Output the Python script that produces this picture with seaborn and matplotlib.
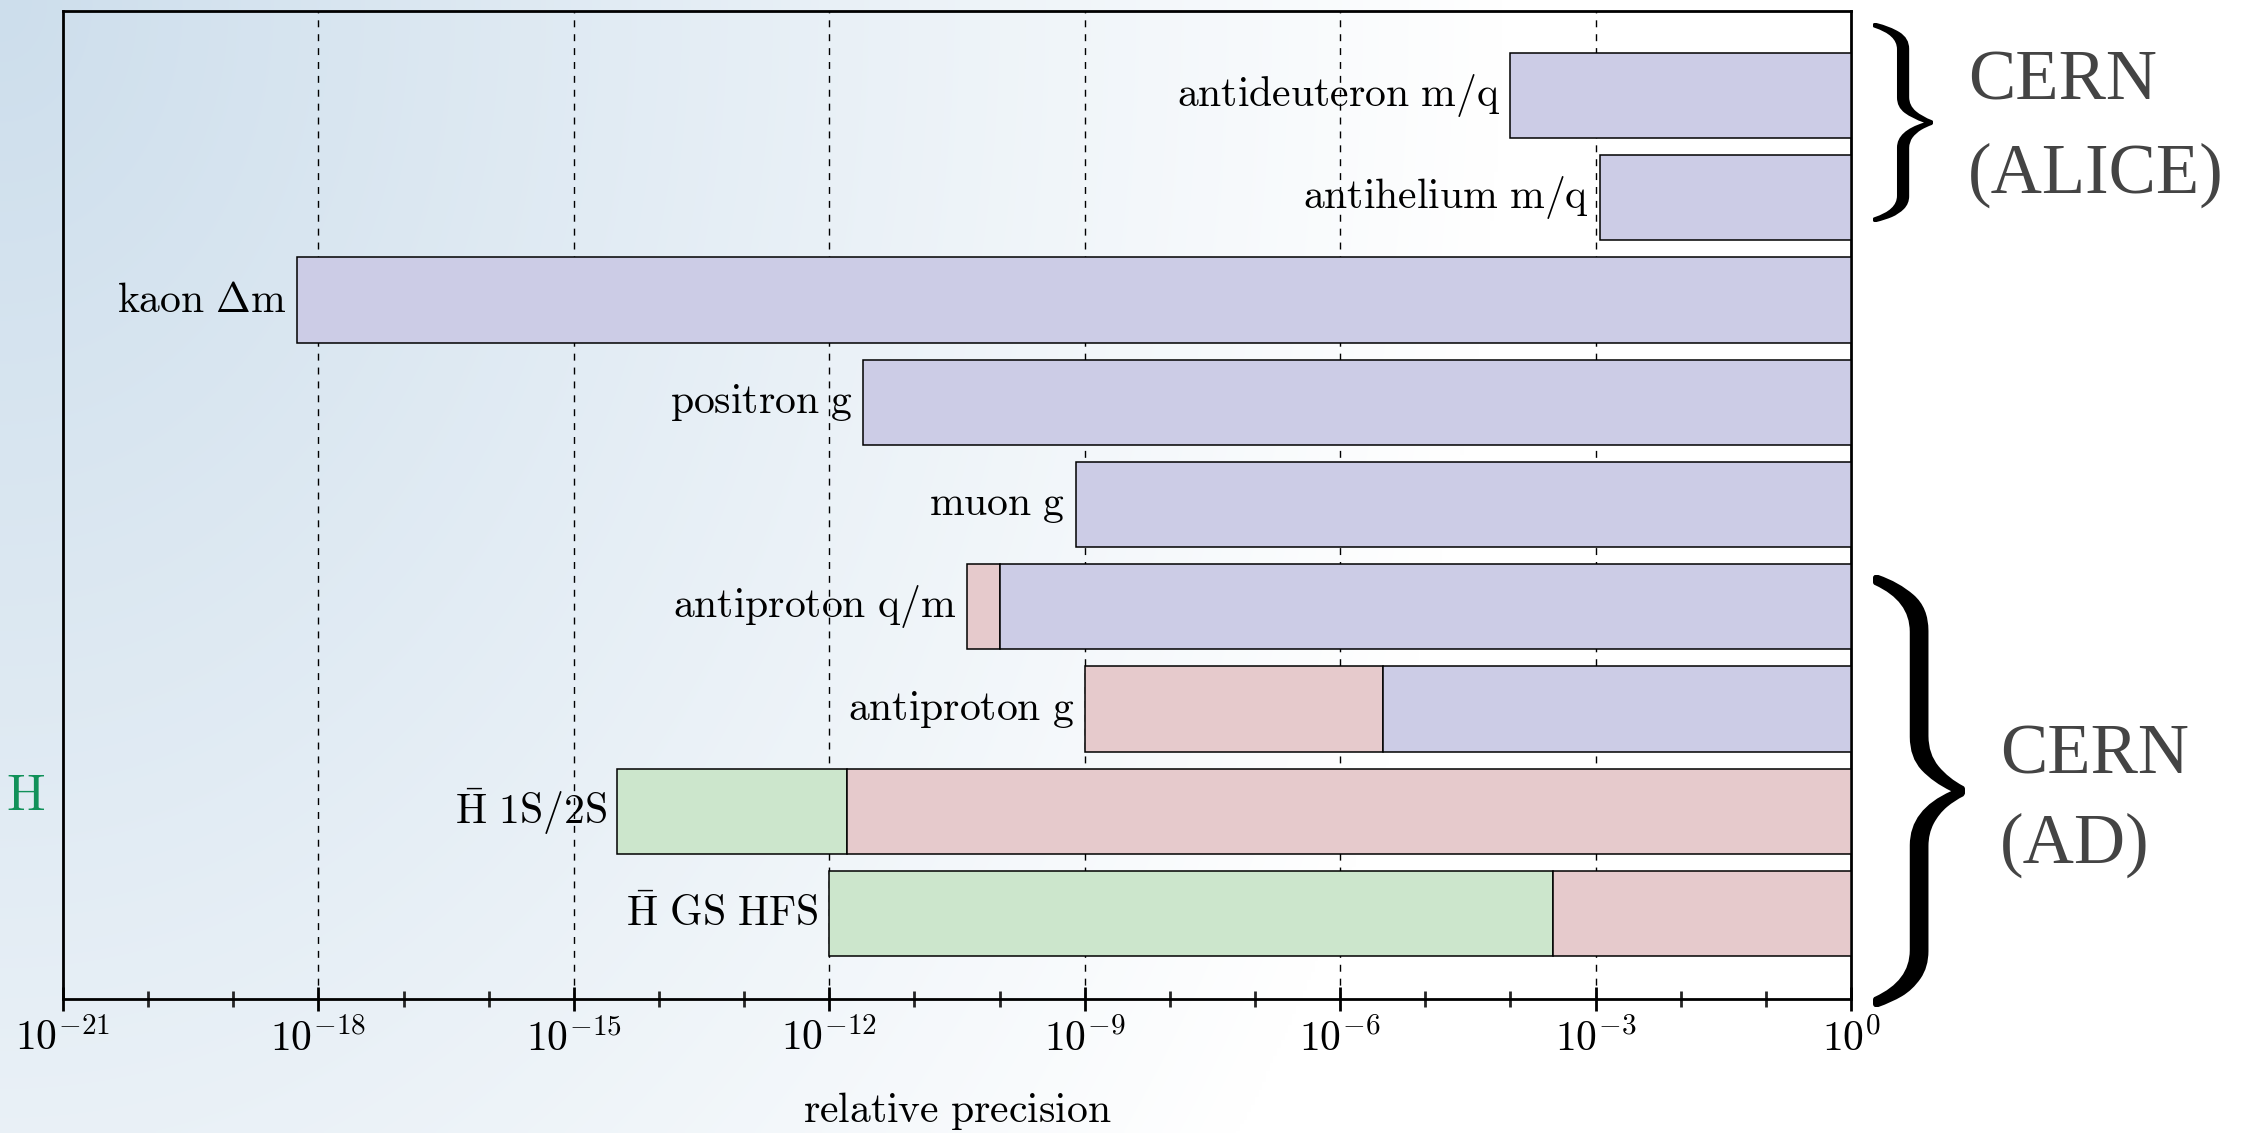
import numpy as np
import matplotlib
matplotlib.use("Agg")
import matplotlib.pyplot as plt
import seaborn as sns
from matplotlib.textpath import TextPath
from matplotlib.patches import PathPatch
from matplotlib.font_manager import FontProperties
from matplotlib.transforms import Affine2D
from matplotlib.ticker import FixedLocator, FuncFormatter, NullFormatter

# ---- data ---------------------------------------------------------------
labels = [
    r"$\mathrm{antideuteron\ m/q}$",
    r"$\mathrm{antihelium\ m/q}$",
    r"$\mathrm{kaon}\ \Delta\mathrm{m}$",
    r"$\mathrm{positron\ g}$",
    r"$\mathrm{muon\ g}$",
    r"$\mathrm{antiproton\ q/m}$",
    r"$\mathrm{antiproton\ g}$",
    r"$\bar{\mathrm{H}}\ \mathrm{1S/2S}$",
    r"$\bar{\mathrm{H}}\ \mathrm{GS\ HFS}$",
]
nan = np.nan
# start of each coloured segment (each runs up to the next segment or to 1)
green_start = [nan, nan, nan, nan, nan, nan, nan, 3.2e-15, 1.0e-12]
pink_start = [nan, nan, nan, nan, nan, 4.1e-11, 1.0e-9, 1.6e-12, 3.2e-4]
blue_start = [1.0e-4, 1.12e-3, 5.6e-19, 2.5e-12, 7.8e-10, 1.0e-10, 3.2e-6, nan, nan]
upper = 1.0

major_exponents = list(range(-21, 1, 3))
minor_exponents = list(range(-21, 1))

colors = {"green": "#cce6cc", "pink": "#e6cacc", "blue": "#ccccE6"}

# ---- style --------------------------------------------------------------
sns.set_theme(style="ticks")
plt.rcParams["mathtext.fontset"] = "cm"
plt.rcParams["font.family"] = ["DejaVu Sans"]

W, H = 2244, 1133
fig = plt.figure(figsize=(W / 100, H / 100), dpi=100)
fig.patch.set_facecolor("white")

# soft blue wash in the upper-left corner of the canvas
bg = fig.add_axes([0, 0, 1, 1], zorder=-10)
yy, xx = np.mgrid[0:1:300j, 0:1:600j]
d = np.sqrt((xx * W / 1500.0) ** 2 + (yy * H / 2000.0) ** 2)
a = np.clip(1 - d, 0, 1)
base = np.array([205, 222, 236]) / 255.0
img = 1 - a[..., None] * (1 - base)
bg.imshow(img, extent=[0, 1, 0, 1], origin="upper", aspect="auto",
          interpolation="bilinear")
bg.set_axis_off()

ax = fig.add_axes([63 / W, 1 - 999 / H, (1851 - 63) / W, (999 - 11) / H])
ax.set_facecolor("none")
ax.set_xscale("log")

# ---- bars ---------------------------------------------------------------
bar_h = 0.834
for i in range(len(labels)):
    segs = []
    for key, starts in (("green", green_start), ("pink", pink_start), ("blue", blue_start)):
        if not np.isnan(starts[i]):
            segs.append((starts[i], colors[key]))
    for j, (s, c) in enumerate(segs):
        e = segs[j + 1][0] if j + 1 < len(segs) else upper
        ax.barh(i, e - s, left=s, height=bar_h, color=c, edgecolor="black",
                linewidth=1.1, zorder=3)
    ax.annotate(labels[i], xy=(segs[0][0], i), xytext=(-7.5, 0),
                textcoords="offset points", ha="right", va="center",
                fontsize=30, color="black", zorder=4)

ax.set_xlim(1e-21, 1)
ax.set_ylim(8.836, -0.826)

# ---- axes ---------------------------------------------------------------
ax.xaxis.set_major_locator(FixedLocator([10.0 ** e for e in major_exponents]))
ax.xaxis.set_minor_locator(FixedLocator([10.0 ** e for e in minor_exponents]))
ax.xaxis.set_major_formatter(FuncFormatter(lambda v, p: r"$10^{%d}$" % int(round(np.log10(v)))))
ax.xaxis.set_minor_formatter(NullFormatter())
ax.tick_params(axis="x", which="major", direction="inout", length=17, width=2.0,
               pad=5, labelsize=30, colors="black", top=False)
ax.tick_params(axis="x", which="minor", direction="inout", length=11, width=2.0,
               top=False)
ax.set_yticks([])
ax.grid(False)
for v in major_exponents[1:-1]:
    ax.axvline(10.0 ** v, color="black", lw=1.0, ls=(0, (5, 5)), zorder=1)
for sp in ax.spines.values():
    sp.set_visible(True)
    sp.set_color("black")
    sp.set_linewidth(2.0)

ax.set_xlabel(r"$\mathrm{relative\ precision}$", fontsize=30, labelpad=22,
              color="black")

# ---- annotations outside the axes --------------------------------------
fig.text(6 / W, 1 - 810 / H, r"$\mathrm{H}$", fontsize=37, color="#119159",
         ha="left", va="baseline")


def brace(x0, x1, ytop, ybot):
    tp = TextPath((0, 0), r"$\}$", size=100,
                  prop=FontProperties(math_fontfamily="cm"))
    ext = tp.get_extents()
    sx = (x1 - x0) / ext.width
    sy = (ybot - ytop) / ext.height
    tr = (Affine2D().translate(-ext.x0, -ext.y0).scale(sx / W, sy / H)
          .translate(x0 / W, 1 - ybot / H))
    fig.add_artist(PathPatch(tp, transform=tr + fig.transFigure,
                             facecolor="black", edgecolor="none"))


brace(1873, 1933, 23, 222)
brace(1873, 1965, 575, 1007)

grp = dict(fontsize=51, color="#444444", family=["Liberation Serif"],
           ha="left", va="baseline")
fig.text(1968 / W, 1 - 100 / H, "CERN", **grp)
fig.text(1968 / W, 1 - 193 / H, "(ALICE)", **grp)
fig.text(2000 / W, 1 - 773 / H, "CERN", **grp)
fig.text(2000 / W, 1 - 863 / H, "(AD)", **grp)

fig.savefig("out.png", dpi=100)
